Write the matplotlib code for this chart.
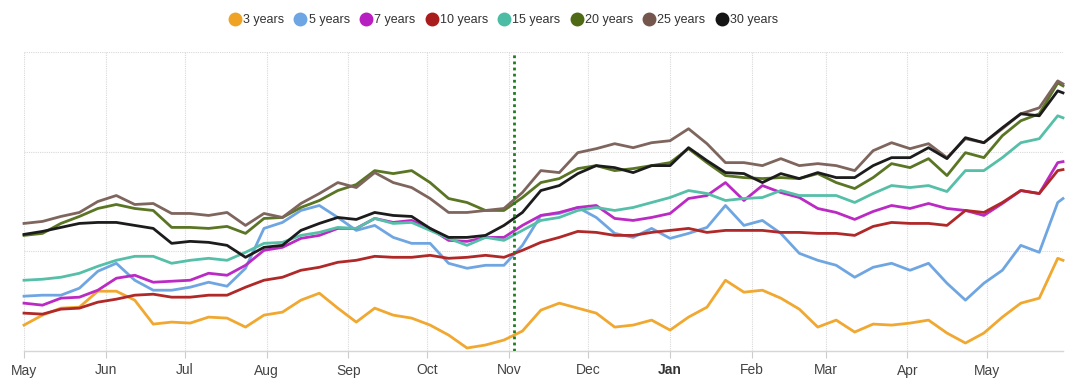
import numpy as np
import pandas as pd
import matplotlib
matplotlib.use("Agg")
import matplotlib.pyplot as plt
import matplotlib.dates as mdates
from matplotlib.lines import Line2D

plt.rcParams['font.family'] = ['Liberation Sans', 'DejaVu Sans']

# weekly readings, May 1 2024 .. May 28 2025, plus May 30 2025
dates = list(pd.date_range("2024-05-01", periods=57, freq="7D")) + [pd.Timestamp("2025-05-30")]

y3 = [0.26, 0.36, 0.43, 0.44, 0.60, 0.60, 0.51, 0.27, 0.29, 0.28,
      0.34, 0.33, 0.24, 0.36, 0.39, 0.51, 0.58, 0.43, 0.29, 0.43,
      0.36, 0.33, 0.26, 0.16, 0.03, 0.06, 0.11, 0.20, 0.41, 0.48,
      0.43, 0.38, 0.24, 0.26, 0.31, 0.21, 0.34, 0.44, 0.71, 0.59,
      0.61, 0.53, 0.42, 0.24, 0.31, 0.19, 0.27, 0.26, 0.28, 0.31,
      0.18, 0.08, 0.18, 0.34, 0.48, 0.53, 0.93, 0.91]
y5 = [0.55, 0.56, 0.56, 0.63, 0.80, 0.88, 0.71, 0.61, 0.61, 0.64,
      0.69, 0.65, 0.83, 1.23, 1.29, 1.41, 1.46, 1.34, 1.21, 1.26,
      1.14, 1.08, 1.08, 0.88, 0.83, 0.86, 0.86, 1.06, 1.36, 1.38,
      1.44, 1.34, 1.18, 1.14, 1.23, 1.13, 1.18, 1.24, 1.46, 1.26,
      1.31, 1.18, 0.98, 0.91, 0.86, 0.74, 0.84, 0.88, 0.81, 0.88,
      0.68, 0.51, 0.68, 0.81, 1.06, 0.99, 1.49, 1.53]
y7 = [0.48, 0.46, 0.53, 0.54, 0.61, 0.73, 0.76, 0.69, 0.70, 0.71,
      0.78, 0.76, 0.86, 1.01, 1.04, 1.13, 1.16, 1.23, 1.23, 1.33,
      1.29, 1.31, 1.23, 1.11, 1.10, 1.14, 1.14, 1.26, 1.36, 1.39,
      1.44, 1.46, 1.33, 1.31, 1.34, 1.38, 1.53, 1.56, 1.69, 1.51,
      1.66, 1.59, 1.54, 1.43, 1.39, 1.32, 1.40, 1.46, 1.43, 1.48,
      1.43, 1.41, 1.36, 1.48, 1.61, 1.58, 1.89, 1.90]
y10 = [0.38, 0.37, 0.42, 0.43, 0.49, 0.52, 0.56, 0.57, 0.54, 0.54,
       0.56, 0.56, 0.64, 0.71, 0.74, 0.81, 0.84, 0.89, 0.91, 0.95,
       0.94, 0.94, 0.96, 0.93, 0.94, 0.96, 0.94, 1.01, 1.09, 1.14,
       1.20, 1.19, 1.16, 1.16, 1.19, 1.21, 1.23, 1.19, 1.21, 1.21,
       1.21, 1.19, 1.19, 1.18, 1.18, 1.16, 1.25, 1.29, 1.28, 1.28,
       1.26, 1.41, 1.39, 1.49, 1.61, 1.58, 1.81, 1.82]
y15 = [0.71, 0.72, 0.74, 0.78, 0.85, 0.91, 0.95, 0.95, 0.88, 0.91,
       0.93, 0.91, 0.99, 1.08, 1.09, 1.16, 1.19, 1.24, 1.23, 1.33,
       1.28, 1.29, 1.21, 1.13, 1.06, 1.14, 1.11, 1.21, 1.31, 1.34,
       1.41, 1.44, 1.41, 1.44, 1.49, 1.54, 1.61, 1.58, 1.51, 1.53,
       1.54, 1.61, 1.56, 1.56, 1.56, 1.49, 1.58, 1.66, 1.64, 1.66,
       1.60, 1.81, 1.81, 1.94, 2.09, 2.13, 2.36, 2.34]
y20 = [1.16, 1.18, 1.28, 1.35, 1.43, 1.47, 1.43, 1.41, 1.24, 1.24,
       1.23, 1.25, 1.18, 1.33, 1.34, 1.44, 1.51, 1.61, 1.67, 1.81,
       1.78, 1.81, 1.69, 1.53, 1.49, 1.41, 1.41, 1.54, 1.69, 1.73,
       1.83, 1.86, 1.81, 1.83, 1.86, 1.89, 2.03, 1.89, 1.76, 1.74,
       1.73, 1.74, 1.73, 1.78, 1.69, 1.63, 1.74, 1.88, 1.84, 1.93,
       1.76, 1.99, 1.94, 2.16, 2.31, 2.38, 2.69, 2.66]
y25 = [1.28, 1.30, 1.35, 1.39, 1.50, 1.56, 1.47, 1.48, 1.38, 1.38,
       1.36, 1.39, 1.26, 1.38, 1.34, 1.48, 1.58, 1.69, 1.64, 1.79,
       1.69, 1.64, 1.53, 1.39, 1.39, 1.41, 1.43, 1.59, 1.81, 1.79,
       1.99, 2.03, 2.08, 2.04, 2.09, 2.11, 2.23, 2.08, 1.89, 1.89,
       1.86, 1.93, 1.86, 1.88, 1.86, 1.81, 2.01, 2.09, 2.03, 2.08,
       1.94, 2.13, 2.09, 2.23, 2.38, 2.44, 2.71, 2.68]
y30 = [1.17, 1.20, 1.24, 1.28, 1.29, 1.29, 1.26, 1.23, 1.08, 1.10,
       1.09, 1.06, 0.94, 1.04, 1.06, 1.21, 1.28, 1.34, 1.32, 1.39,
       1.36, 1.35, 1.23, 1.14, 1.14, 1.16, 1.26, 1.39, 1.61, 1.66,
       1.78, 1.86, 1.84, 1.79, 1.86, 1.86, 2.04, 1.91, 1.79, 1.78,
       1.69, 1.78, 1.73, 1.79, 1.74, 1.74, 1.86, 1.94, 1.94, 2.04,
       1.93, 2.14, 2.09, 2.24, 2.38, 2.36, 2.61, 2.59]

labels = ["3 years", "5 years", "7 years", "10 years", "15 years", "20 years", "25 years", "30 years"]
series = [y3, y5, y7, y10, y15, y20, y25, y30]
colors = ["#f0a323", "#6ea5e3", "#b81fc0", "#a91c1c", "#4cbca4", "#4f6a14", "#75564c", "#151515"]
line_colors = ["#f0a830", "#6fa6e2", "#bb2ac3", "#b02828", "#55bfa8", "#5a7523", "#7e655d", "#1c1c1c"]
event_date = pd.Timestamp("2024-11-03")

fig = plt.figure(figsize=(10.75, 3.85), dpi=100)
ax = fig.add_axes([24/1075, 34/385, (1063-24)/1075, 299/385])

for vals, c in zip(series, line_colors):
    ax.plot(dates, vals, color=c, lw=2.0, solid_joinstyle='round', clip_on=False, zorder=3)

ax.axvline(event_date, color="#1e7d1e", lw=2, linestyle=(0, (1, 1.2)), zorder=4)

ax.set_xlim(pd.Timestamp("2024-05-01"), pd.Timestamp("2025-05-30"))
ax.set_ylim(0, 3)
ax.set_yticks([0, 1, 2, 3])
ax.set_yticklabels([])
ax.tick_params(axis='y', length=0)

months = pd.date_range("2024-05-01", "2025-05-01", freq="MS")
ax.set_xticks(months)
ax.set_xticklabels([d.strftime("%b") for d in months], fontsize=10, color="#444444")
for lab, d in zip(ax.get_xticklabels(), months):
    if d.month == 1:
        lab.set_fontweight("bold")
        lab.set_color("#333333")
ax.tick_params(axis='x', length=5, color="#cccccc", pad=4)

ax.grid(True, color="#d9d9d9", lw=0.8, linestyle=(0, (1, 1)))
for s in ["top", "right", "left"]:
    ax.spines[s].set_visible(False)
ax.spines["bottom"].set_color("#d6d6d6")
ax.spines["bottom"].set_linewidth(1)

handles = [Line2D([], [], marker='o', linestyle='none', markersize=9,
                  markerfacecolor=c, markeredgecolor=c) for c in colors]
fig.legend(handles, labels, loc="center", bbox_to_anchor=(504/1075, 1 - 20/385), ncol=8,
           frameon=False, fontsize=9, handlelength=0.8, handletextpad=0.25,
           columnspacing=0.9, labelcolor="#333333")

fig.savefig("out.png", dpi=100)
